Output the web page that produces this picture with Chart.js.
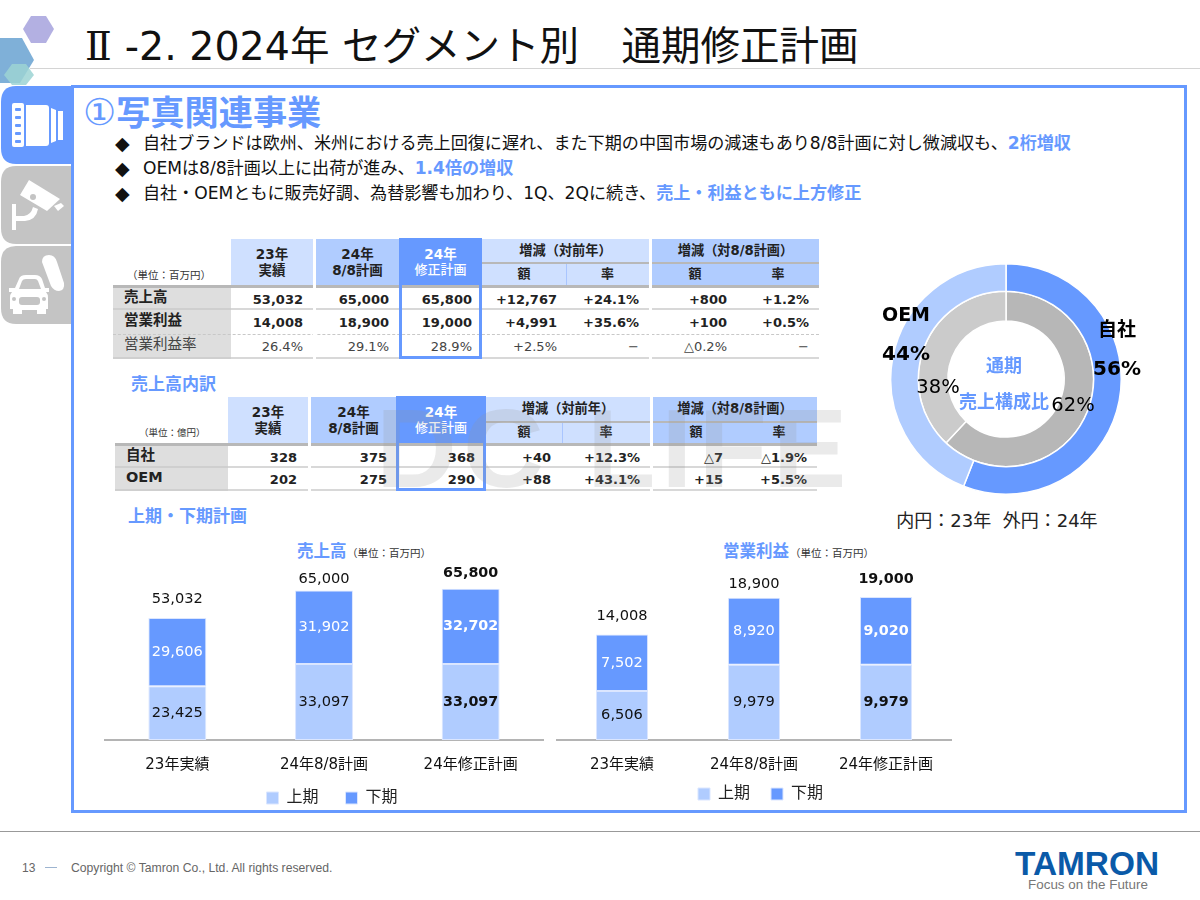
<!DOCTYPE html>
<html lang="ja">
<head>
<meta charset="utf-8">
<title>通期修正計画</title>
<script src="https://cdn.jsdelivr.net/npm/chart.js@4"></script>
<style>
  html, body { margin: 0; padding: 0; background: #fff; }
  body { width: 1200px; height: 900px; position: relative; overflow: hidden;
         font-family: "DejaVu Sans", "Noto Sans CJK JP", sans-serif; color: #000; }
  .t { position: absolute; white-space: nowrap; }
  .box { position: absolute; }
  canvas { position: absolute; }
  .blue { color: #6699ff; font-weight: 700; }
</style>
</head>
<body>
<script>
// ---- データ ----
const barCategories = ['23年実績', '24年8/8計画', '24年修正計画'];
const salesFirst = [23425, 33097, 33097];
const salesSecond = [29606, 31902, 32702];
const salesTotal = [53032, 65000, 65800];
const profitFirst = [6506, 9979, 9979];
const profitSecond = [7502, 8920, 9020];
const profitTotal = [14008, 18900, 19000];

const ringLabels = ['自社', 'OEM'];
const ring24 = [56, 44];
const ring23 = [62, 38];

const rowNames1 = ['売上高', '営業利益', '営業利益率'];
const row1Sales = ['53,032', '65,000', '65,800', '+12,767', '+24.1%', '+800', '+1.2%'];
const row1Profit = ['14,008', '18,900', '19,000', '+4,991', '+35.6%', '+100', '+0.5%'];
const row1Margin = ['26.4%', '29.1%', '28.9%', '+2.5%', '−', '△0.2%', '−'];

const rowNames2 = ['自社', 'OEM'];
const row2Own = ['328', '375', '368', '+40', '+12.3%', '△7', '△1.9%'];
const row2Oem = ['202', '275', '290', '+88', '+43.1%', '+15', '+5.5%'];

const BLUE = '#6699ff', LIGHT = '#b0ccff', PALE = '#cfe0ff', RULE = '#b8b8b8';

// 絶対配置のヘルパー
function box(x, y, w, h, css) {
  const d = document.createElement('div');
  d.className = 'box';
  d.style.cssText = `left:${x}px;top:${y}px;width:${w}px;height:${h}px;${css || ''}`;
  document.body.appendChild(d);
  return d;
}
// cy = 文字の中心。align: l / c / r
function text(x, cy, str, size, css, align) {
  const d = document.createElement('div');
  d.className = 't';
  const a = align || 'l';
  const shift = a === 'c' ? 'translate(-50%,-50%)' : a === 'r' ? 'translate(-100%,-50%)' : 'translateY(-50%)';
  d.style.cssText = `left:${x}px;top:${cy}px;font-size:${size}px;line-height:1.2;transform:${shift};${css || ''}`;
  d.innerHTML = str;
  document.body.appendChild(d);
  return d;
}

// ---- 見出し・枠 ----
box(30, 68, 1170, 1, 'background:#d4d4d4');
text(85, 47, '<span style="font-family:\'DejaVu Serif\';margin-right:13px">Ⅱ</span>-2. 2024年 セグメント別　<span style="margin-left:3px">通期修正計画</span>', 39.5, 'color:#111');
box(71, 85, 1110, 722, 'border:3px solid ' + BLUE + ';background:transparent');
box(0, 831, 1200, 1, 'background:#999');

document.body.insertAdjacentHTML('beforeend', `
<svg class="box" style="left:0;top:0" width="90" height="330" viewBox="0 0 90 330">
  <polygon points="23,29 31,16 46,16 54,29 46,43 31,43" fill="#b3b0e2"/>
  <polygon points="0,38 22,38 34,60 20,83 0,83" fill="#7fb0d8"/>
  <polygon points="4,75 12,64 26,64 34,75 26,85 12,85" fill="#9cd3d4" fill-opacity=".85"/>
  <path d="M71 86H16Q1 86 1 102V148Q1 164 16 164H71Z" fill="${BLUE}"/>
  <path d="M71 166H16Q1 166 1 182V228Q1 244 16 244H71Z" fill="#c4c4c4"/>
  <path d="M71 246H16Q1 246 1 262V308Q1 324 16 324H71Z" fill="#c4c4c4"/>
  <rect x="12" y="103" width="12" height="44" rx="2" fill="#fff"/>
  <g fill="${BLUE}"><rect x="15" y="108" width="6" height="3" rx="1"/><rect x="15" y="116" width="6" height="3" rx="1"/><rect x="15" y="124" width="6" height="3" rx="1"/><rect x="15" y="132" width="6" height="3" rx="1"/><rect x="15" y="140" width="6" height="3" rx="1"/></g>
  <path d="M26 105H46Q49 105 49 108V143Q49 146 46 146H26Z" fill="#fff"/>
  <path d="M51 108L56 110V141L51 143Z" fill="#fff"/>
  <rect x="58" y="111" width="5" height="29" fill="#fff"/>
  <path d="M29 180L60 199L47 211L20 195Z" fill="#fff"/>
  <path d="M54 206L61 203L64 206L58 211Z" fill="#fff"/>
  <circle cx="33" cy="197" r="3" fill="#c4c4c4"/>
  <path d="M12 230V204H16V216H24Q31 215 33 207L38 209Q36 220 25 221H16V230Z" fill="#fff"/>
  <path d="M15 288L19 279Q20 275 26 275H35Q40 275 42 279L45 288H49V292H46Q48 294 48 298V309H46V314H37V310H22V314H13V309H10V298Q10 294 12 292H9V288Z" fill="#fff"/>
  <path d="M19 289L22 281Q23 279 26 279H35Q37 279 38 281L41 289Z" fill="#c4c4c4"/>
  <rect x="19" y="297" width="21" height="8" rx="3" fill="#c4c4c4"/>
  <circle cx="14" cy="299" r="2" fill="#c4c4c4"/><circle cx="44" cy="299" r="2" fill="#c4c4c4"/>
  <path d="M42 262Q42 255 49 255Q55 255 57 262L64 283Q65 290 59 291Q54 291 51 286Z" fill="#fff"/>
</svg>`);

// ---- 本文 ----
text(83, 113, '<span style="font-weight:400;font-size:37px">①</span>写真関連事業', 34.2, '').className += ' blue';
const bulletCss = 'color:#111';
[
  [143, '自社ブランドは欧州、米州における売上回復に遅れ、また下期の中国市場の減速もあり8/8計画に対し微減収も、<span class="blue">2桁増収</span>'],
  [168, 'OEMは8/8計画以上に出荷が進み、<span class="blue">1.4倍の増収</span>'],
  [193, '自社・OEMともに販売好調、為替影響も加わり、1Q、2Qに続き、<span class="blue">売上・利益ともに上方修正</span>']
].forEach(([y, s]) => {
  text(115, y, '◆', 19, bulletCss);
  text(143, y, s, 17.1, bulletCss);
});

// ---- 表 ----
function buildTable(g) {
  const hdr = 'font-weight:700;color:#222';
  const last = g.rows[g.rows.length - 1];
  box(g.x[1], g.top, g.x[2] - g.x[1] - 3, g.hb - g.top, 'background:' + PALE);
  box(g.x[2], g.top, g.x[3] - g.x[2], g.hb - g.top, 'background:' + LIGHT);
  box(g.x[3], g.top, g.x[4] - g.x[3], g.hb - g.top, 'background:' + BLUE);
  box(g.x[4], g.top, g.x[5] - g.x[4], g.hb - g.top, 'background:' + PALE);
  box(g.x[6], g.top, g.x[7] - g.x[6], g.hb - g.top, 'background:' + LIGHT);
  box(g.x[4], g.mid, g.x[5] - g.x[4], 2, 'background:' + RULE);
  box(g.x[6], g.mid, g.x[7] - g.x[6], 2, 'background:' + RULE);
  box(g.sub, g.mid + 2, 1, g.hb - g.mid - 2, 'background:#a9c5ff');
  box(g.x[0], g.hb, g.x[7] - g.x[0], 3, 'background:' + RULE);

  const c = i => (g.x[i] + g.x[i + 1] - (i === 1 ? 3 : 0)) / 2;
  const l1 = g.top + 15, l2 = g.top + 31;
  text(c(1), l1, '23年', 13.5, hdr, 'c'); text(c(1), l2, '実績', 13.5, hdr, 'c');
  text(c(2), l1, '24年', 13.5, hdr, 'c'); text(c(2), l2, '8/8計画', 13.5, hdr, 'c');
  text(c(3), l1, '24年', 13.5, 'font-weight:700;color:#fff', 'c');
  text(c(3), l2, '修正計画', 13, 'color:#fff;font-weight:500', 'c');
  const h1y = (g.top + g.mid) / 2, h2y = (g.mid + g.hb) / 2;
  text((g.x[4] + g.x[5]) / 2, h1y, '増減（対前年）', 13.2, hdr, 'c');
  text((g.x[6] + g.x[7]) / 2, h1y, '増減（対8/8計画）', 13.2, hdr, 'c');
  text((g.x[4] + g.sub) / 2, h2y, '額', 13, hdr, 'c');
  text((g.sub + g.x[5]) / 2, h2y, '率', 13, hdr, 'c');
  text(g.x[6] + 43, h2y, '額', 13, hdr, 'c');
  text(g.x[6] + 126, h2y, '率', 13, hdr, 'c');
  text(g.unitX, g.hb - 10, g.unit, g.unitSize, 'color:#333');

  box(g.x[0], g.hb + 3, g.x[1] - g.x[0], last - g.hb - 3, 'background:#dedede');
  g.names.forEach((name, i) => {
    const y0 = i === 0 ? g.hb + 3 : g.rows[i - 1], y1 = g.rows[i];
    const light = g.cells[i][0].indexOf('%') > 0;
    const cy = (y0 + y1) / 2;
    text(g.x[0] + 11, cy - 1, name, 14.5, light ? 'color:#444' : 'font-weight:700;color:#222');
    g.cells[i].forEach((v, j) => {
      text(g.right[j], cy + 1, v, 13, (light ? 'color:#444' : 'font-weight:700;color:#222') , 'r');
    });
    if (g.dash === i) {
      box(g.x[0], y1, g.x[7] - g.x[0], 0, 'border-top:1px dashed #c8c8c8');
    } else {
      box(g.x[1], y1 - 1, g.x[7] - g.x[1], 2, 'background:#d8d8d8');
      box(g.x[0], y1 - 1, g.x[1] - g.x[0], 2, 'background:#cfcfcf');
    }
  });
  // 罫線の切れ目
  box(g.x[2] - 3, g.hb, 3, last - g.hb + 1, 'background:#fff');
  box(g.x[5], g.hb, 3, last - g.hb + 1, 'background:#fff');
  box(g.x[3], g.top - 1, g.x[4] - g.x[3] - 6, last - g.top - 4,
      'border:3px solid ' + BLUE + ';box-sizing:content-box');
}

buildTable({
  x: [113, 231, 316, 399, 482, 649, 652, 819], sub: 566, top: 239, mid: 262, hb: 285,
  rows: [309, 334, 358], names: rowNames1, cells: [row1Sales, row1Profit, row1Margin], dash: 1,
  right: [303, 389, 472, 557, 639, 727, 809], unit: '（単位：百万円）', unitX: 127, unitSize: 10.5
});
buildTable({
  x: [115, 228, 311, 396, 486, 650, 653, 817], sub: 562, top: 397, mid: 421, hb: 443,
  rows: [467, 490], names: rowNames2, cells: [row2Own, row2Oem], dash: -1,
  right: [297, 387, 475, 551, 640, 723, 807], unit: '（単位：億円）', unitX: 139, unitSize: 9.5
});

text(131, 384, '売上高内訳', 17, '').className += ' blue';
text(128, 516, '上期・下期計画', 17, '').className += ' blue';
text(297, 552, '売上高', 16.5, '').className += ' blue';
text(347, 553, '（単位：百万円）', 10.5, 'color:#333');
text(723, 552, '営業利益', 16.5, '').className += ' blue';
text(790, 553, '（単位：百万円）', 10.5, 'color:#333');

// 透かし
const mark = text(376, 449, 'DC LIFE', 112, 'font-family:"Liberation Sans";font-weight:700;letter-spacing:6px;color:rgba(150,150,150,.2);width:466px;overflow:hidden');
mark.style.zIndex = 5;

// ---- フッター ----
text(22, 868, '13', 12, 'font-family:"Liberation Sans";color:#666');
box(45, 867, 12, 1, 'background:#9db4d0');
text(71, 868, 'Copyright © Tamron Co., Ltd. All rights reserved.', 12.2, 'font-family:"Liberation Sans";color:#666');
text(1087, 864, 'TAMRON', 33.4, 'font-family:"Liberation Sans";font-weight:700;color:#0a5aa8', 'c');
text(1088, 885, 'Focus on the Future', 13.4, 'font-family:"Liberation Sans";color:#777', 'c');

// ---- グラフ ----
function addCanvas(x, y, w, h) {
  const c = document.createElement('canvas');
  c.width = w; c.height = h;
  c.style.left = x + 'px'; c.style.top = y + 'px';
  c.style.width = w + 'px'; c.style.height = h + 'px';
  document.body.appendChild(c);
  return c;
}

Chart.defaults.font.family = '"DejaVu Sans", "Noto Sans CJK JP", sans-serif';
Chart.defaults.animation = false;

// 棒の中と上に数値を描く
const barLabelPlugin = {
  id: 'barLabels',
  afterDatasetsDraw(chart, args, opts) {
    const ctx = chart.ctx;
    const fontFor = i => (i === 2 ? 'bold 14.3px ' : '14.6px ') + Chart.defaults.font.family;
    ctx.save();
    ctx.textAlign = 'center';
    ctx.textBaseline = 'middle';
    chart.data.datasets.forEach((ds, di) => {
      chart.getDatasetMeta(di).data.forEach((bar, i) => {
        ctx.font = fontFor(i);
        ctx.fillStyle = di === 0 ? '#111' : '#fff';
        ctx.fillText(ds.data[i].toLocaleString('en-US'), bar.x, (bar.y + bar.base) / 2);
      });
    });
    const top = chart.getDatasetMeta(1).data;
    opts.totals.forEach((v, i) => {
      ctx.font = fontFor(i);
      ctx.fillStyle = '#111';
      ctx.fillText(v.toLocaleString('en-US'), top[i].x, chart.scales.y.getPixelForValue(v) - opts.gaps[i]);
    });
    ctx.restore();
  }
};
// 凡例の位置を微調整
const legendNudge = {
  id: 'legendNudge',
  afterLayout(chart, args, opts) {
    chart.legend.left += opts.dx;
    chart.legend.right += opts.dx;
    chart.legend.top += opts.dy;
    chart.legend.bottom += opts.dy;
  }
};

function stackedChart(x, w, h, first, second, totals, cfg) {
  new Chart(addCanvas(x, 540, w, h), {
    type: 'bar',
    data: {
      labels: barCategories,
      datasets: [
        { label: '上期', data: first, backgroundColor: LIGHT, borderColor: '#dbe6ff', borderWidth: 1, borderSkipped: false },
        { label: '下期', data: second, backgroundColor: BLUE, borderColor: '#dbe6ff', borderWidth: 1, borderSkipped: false }
      ]
    },
    options: {
      responsive: false,
      layout: { padding: 0 },
      datasets: { bar: { categoryPercentage: 1, barPercentage: 0.395 } },
      scales: {
        x: {
          stacked: true,
          grid: { display: false, drawTicks: false },
          border: { color: '#b4b4b4', width: 2 },
          ticks: { color: '#111', font: { size: 15 }, padding: 16, maxRotation: 0 },
          afterFit(s) { s.height = 44; }
        },
        y: { stacked: true, display: false, min: 0, max: cfg.max }
      },
      plugins: {
        tooltip: { enabled: false },
        legend: {
          position: 'bottom',
          labels: { boxWidth: 12, boxHeight: 12, padding: cfg.gap, color: '#222', font: { size: 16 } }
        },
        barLabels: { totals: totals, gaps: cfg.gaps },
        legendNudge: { dx: cfg.dx, dy: cfg.dy }
      }
    },
    plugins: [barLabelPlugin, legendNudge]
  });
}

stackedChart(104, 440, 297, salesFirst, salesSecond, salesTotal,
  { max: 87000, gap: 27, dx: 8, dy: -21, gaps: [19, 11, 15] });
stackedChart(556, 396, 291, profitFirst, profitSecond, profitTotal,
  { max: 26560, gap: 21, dx: 6.5, dy: -19, gaps: [18, 13, 18] });

new Chart(addCanvas(890, 263, 232, 232), {
  type: 'doughnut',
  data: {
    labels: ringLabels,
    datasets: [
      { data: ring24, backgroundColor: [BLUE, LIGHT], borderColor: '#fff', borderWidth: 1.5, weight: 27.5 },
      { data: ring23, backgroundColor: ['#b7b7b7', '#cbcbcb'], borderColor: '#fff', borderWidth: 1.5, weight: 29.5 }
    ]
  },
  options: {
    responsive: false,
    cutout: '50.4%',
    layout: { padding: 0 },
    plugins: { legend: { display: false }, tooltip: { enabled: false } }
  }
});

// 円グラフの文字
text(906, 314, ringLabels[1], 19, 'font-weight:700', 'c');
text(906, 353, ring24[1] + '%', 20, 'font-weight:700', 'c');
text(1117, 329, ringLabels[0], 19, 'font-weight:700', 'c');
text(1117, 368, ring24[0] + '%', 20, 'font-weight:700', 'c');
text(938, 387, ring23[1] + '%', 19.5, '', 'c');
text(1073, 405, ring23[0] + '%', 19.5, '', 'c');
text(1004, 366, '通期', 18, '', 'c').className += ' blue';
text(1004, 402, '売上構成比', 18, '', 'c').className += ' blue';
text(997, 521, '内円：23年&nbsp;&nbsp;外円：24年', 18, 'color:#222', 'c');
</script>
</body>
</html>
